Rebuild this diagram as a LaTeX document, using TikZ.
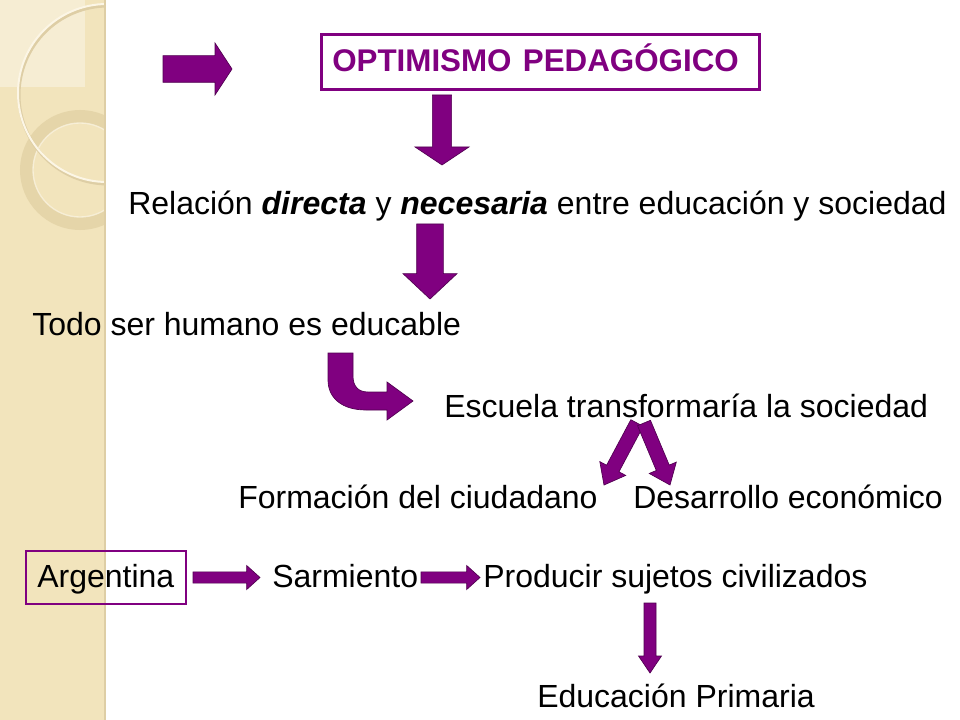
\documentclass[tikz,border=0pt]{standalone}
\usepackage{fontspec}
\setmainfont{Liberation Sans}
\usetikzlibrary{calc}
\definecolor{purp}{RGB}{128,0,128}
\definecolor{purpdark}{RGB}{80,0,80}
\definecolor{stripbg}{RGB}{242,228,188}
\definecolor{stripedge}{RGB}{222,206,165}
\definecolor{ringcol}{RGB}{226,210,165}
\definecolor{circlight}{RGB}{252,246,230}
\tikzset{
  txt/.style={anchor=base west, inner sep=0pt, font=\fontsize{24}{28}\selectfont},
  arrowshape/.style={fill=purp, draw=purpdark, line width=0.5pt, line join=miter},
  framebox/.style={draw=purp, line width=2pt, inner sep=0pt, minimum width=438*0.75pt, minimum height=55*0.75pt},
  smallbox/.style={draw=purp, line width=1.2pt, inner sep=0pt, minimum width=160*0.75pt, minimum height=53*0.75pt}
}
% block arrow: start, end, shaft half width, head half width, head length
\newcommand\blockarrow[5]{%
  \coordinate (ba-s) at (#1);
  \coordinate (ba-e) at (#2);
  \coordinate (ba-h) at ($(ba-e)!#5!(ba-s)$);
  \draw[arrowshape] ($(ba-s)!#3!90:(ba-e)$) -- ($(ba-h)!#3!-90:(ba-s)$) -- ($(ba-h)!#4!-90:(ba-s)$) -- (ba-e) -- ($(ba-h)!#4!90:(ba-s)$) -- ($(ba-h)!#3!90:(ba-s)$) -- ($(ba-s)!#3!-90:(ba-e)$) -- cycle;
}
\begin{document}
\begin{tikzpicture}[x=0.75pt, y=-0.75pt]
\useasboundingbox (0,0) rectangle (960,720);
\fill[white] (0,0) rectangle (960,720);
% left decorative strip
\fill[stripbg] (0,0) rectangle (105,720);
\begin{scope}
  \clip (0,0) rectangle (104,720);
  \fill[white, opacity=0.35] (0,0) rectangle (85,87);
  \draw[ringcol, opacity=0.8, line width=13*0.75pt] (80,170) circle [radius=53.5*0.75pt];
  \draw[circlight, opacity=0.7, line width=1pt] (80,170) circle [radius=47*0.75pt];
  \draw[stripedge, line width=3*0.75pt] (108,95) circle [radius=89*0.75pt];
  \draw[circlight, line width=2*0.75pt] (107,93) circle [radius=89*0.75pt];
\end{scope}
\draw[stripedge, line width=2*0.75pt] (104.5,0) -- (104.5,720);

% nodes
\node[framebox, anchor=north west] (opt) at (320,33) {};
\node[anchor=base west, inner sep=0pt, font=\fontsize{23.5}{28}\selectfont\bfseries, text=purp] (optt) at (332,72) {OPTIMISMO\hspace{2pt} PEDAGÓGICO};
\node[txt] (rel) at (128,215) {Relación \textbf{\textit{directa}} y \textbf{\textit{necesaria}} entre educación y sociedad};
\node[txt] (todo) at (32,335) {Todo ser humano es educable};
\node[txt] (esc) at (444,417) {Escuela transformaría la sociedad};
\node[txt] (form) at (238,508) {Formación del ciudadano};
\node[txt] (des) at (633,508) {Desarrollo económico};
\node[smallbox, anchor=north west] (argbox) at (25,550) {};
\node[txt] (arg) at (37,587) {Argentina};
\node[txt] (sar) at (272,587) {Sarmiento};
\node[txt] (prod) at (483,587) {Producir sujetos civilizados};
\node[txt] (edu) at (537,707) {Educación Primaria};

% arrows
\blockarrow{163,69}{232,69}{10pt}{19.5pt}{12.75pt}
\blockarrow{442,95}{442,165}{7.2pt}{20.25pt}{13.5pt}
\blockarrow{430,224}{430,299}{10pt}{20.25pt}{19pt}
% curved arrow
\draw[arrowshape] (328,353) -- (328,380) .. controls (328,398) and (342,410) .. (366,410) -- (387,410) -- (387,420) -- (413,401) -- (387,382) -- (387,392) -- (368,392) .. controls (358,392) and (353,386) .. (353,376) -- (353,353) -- cycle;
% V arrows
\blockarrow{637,423}{604,485}{5.25pt}{11pt}{14pt}
\blockarrow{644,423}{670,485}{5.25pt}{11pt}{14pt}
% bottom row
\blockarrow{193,577.5}{260,577.5}{4.2pt}{9pt}{10pt}
\blockarrow{421,577.5}{480,577.5}{4.2pt}{9pt}{10pt}
\blockarrow{650,603}{650,673}{4.5pt}{8.6pt}{12.75pt}
\end{tikzpicture}
\end{document}
